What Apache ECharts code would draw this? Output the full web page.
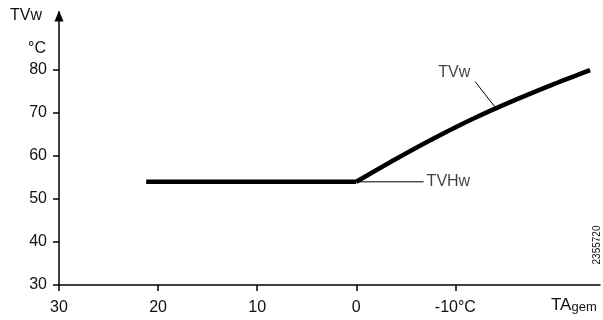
<!DOCTYPE html>
<html><head><meta charset="utf-8">
<script src="https://cdn.jsdelivr.net/npm/echarts@6/dist/echarts.min.js"></script>
<style>html,body{margin:0;padding:0;background:#fff}#c{width:603px;height:320px}</style>
</head><body><div id="c"></div>
<script>
// x: outdoor temperature (TA_gem, °C, axis reversed), y: flow temperature TVw (°C)
var xTicks = [30, 20, 10, 0, -10];
var xTickLabels = ['30', '20', '10', '0', '-10°C'];
var yTicks = [30, 40, 50, 60, 70, 80];
var flatLine = [[21.2, 54], [0, 54]];             // TVHw limit
var curveLine = [[0, 54], [-4, 59.3], [-8, 64.3], [-12, 68.9], [-16, 73.0], [-20, 76.8], [-23.6, 80.0]];
var tvhwLeader = [[0, 54], [-6.8, 54]];
var tvhwLabelPos = [-7.1, 54];
var tvwLeader = [[-14.1, 71.1], [-12.0, 77.3]];
var tvwLabelPos = [-9.9, 79.5];

var FONT = 'Liberation Sans, Arial, sans-serif';
var TXT = '#111';
var chart = echarts.init(document.getElementById('c'), null, {renderer: 'canvas'});
chart.setOption({
  animation: false,
  grid: {left: 59, right: 3, top: 12, bottom: 35},
  xAxis: {
    type: 'value', inverse: true, min: -24.6, max: 30,
    splitLine: {show: false},
    axisLine: {onZero: false, lineStyle: {color: '#000', width: 1.5}},
    axisTick: {show: true, length: 6, customValues: xTicks, lineStyle: {color: '#000', width: 1.5}},
    axisLabel: {customValues: xTicks, color: TXT, fontSize: 16, fontFamily: FONT, margin: 15,
      formatter: function (v) { return xTickLabels[xTicks.indexOf(v)]; }}
  },
  yAxis: {
    type: 'value', min: 30, max: 93.5,
    splitLine: {show: false},
    axisLine: {show: true, onZero: false, symbol: ['none', 'triangle'], symbolSize: [9, 11], symbolOffset: [0, -4], lineStyle: {color: '#000', width: 1.5}},
    axisTick: {show: true, length: 6, customValues: yTicks, lineStyle: {color: '#000', width: 1.5}},
    axisLabel: {customValues: yTicks, color: TXT, fontSize: 16, fontFamily: FONT, margin: 12}
  },
  series: [
    {type: 'line', data: flatLine, symbol: 'none', lineStyle: {color: '#000', width: 4.5}},
    {type: 'line', data: curveLine, symbol: 'none', smooth: 0.3, lineStyle: {color: '#000', width: 4.5}},
    {type: 'line', data: tvhwLeader, symbol: 'none', lineStyle: {color: '#000', width: 1}},
    {type: 'line', data: tvwLeader, symbol: 'none', lineStyle: {color: '#000', width: 1}},
    {type: 'scatter', symbolSize: 0, data: [tvhwLabelPos],
      label: {show: true, position: 'right', distance: 0, formatter: 'TVHw', color: TXT, fontSize: 16, fontFamily: FONT}},
    {type: 'scatter', symbolSize: 0, data: [tvwLabelPos],
      label: {show: true, position: 'inside', formatter: 'TVw', color: TXT, fontSize: 16, fontFamily: FONT}}
  ],
  graphic: [
    {type: 'text', left: 10, top: 8, style: {text: 'TVw', fill: TXT, font: '16px ' + FONT}},
    {type: 'text', left: 28, top: 41, style: {text: '°C', fill: TXT, font: '16px ' + FONT}},
    {type: 'text', left: 551, top: 297, style: {text: '{a|TA}{b|gem}', rich: {a: {fontSize: 17, fontFamily: FONT, fill: TXT, verticalAlign: 'bottom'}, b: {fontSize: 13, fontFamily: FONT, fill: TXT, padding: [6, 0, 0, 0], verticalAlign: 'bottom'}}}},
    {type: 'text', x: 597, y: 245, rotation: Math.PI / 2, style: {text: '2355720', fill: TXT, font: '10px ' + FONT, align: 'center', verticalAlign: 'middle'}}
  ]
});
</script></body></html>
